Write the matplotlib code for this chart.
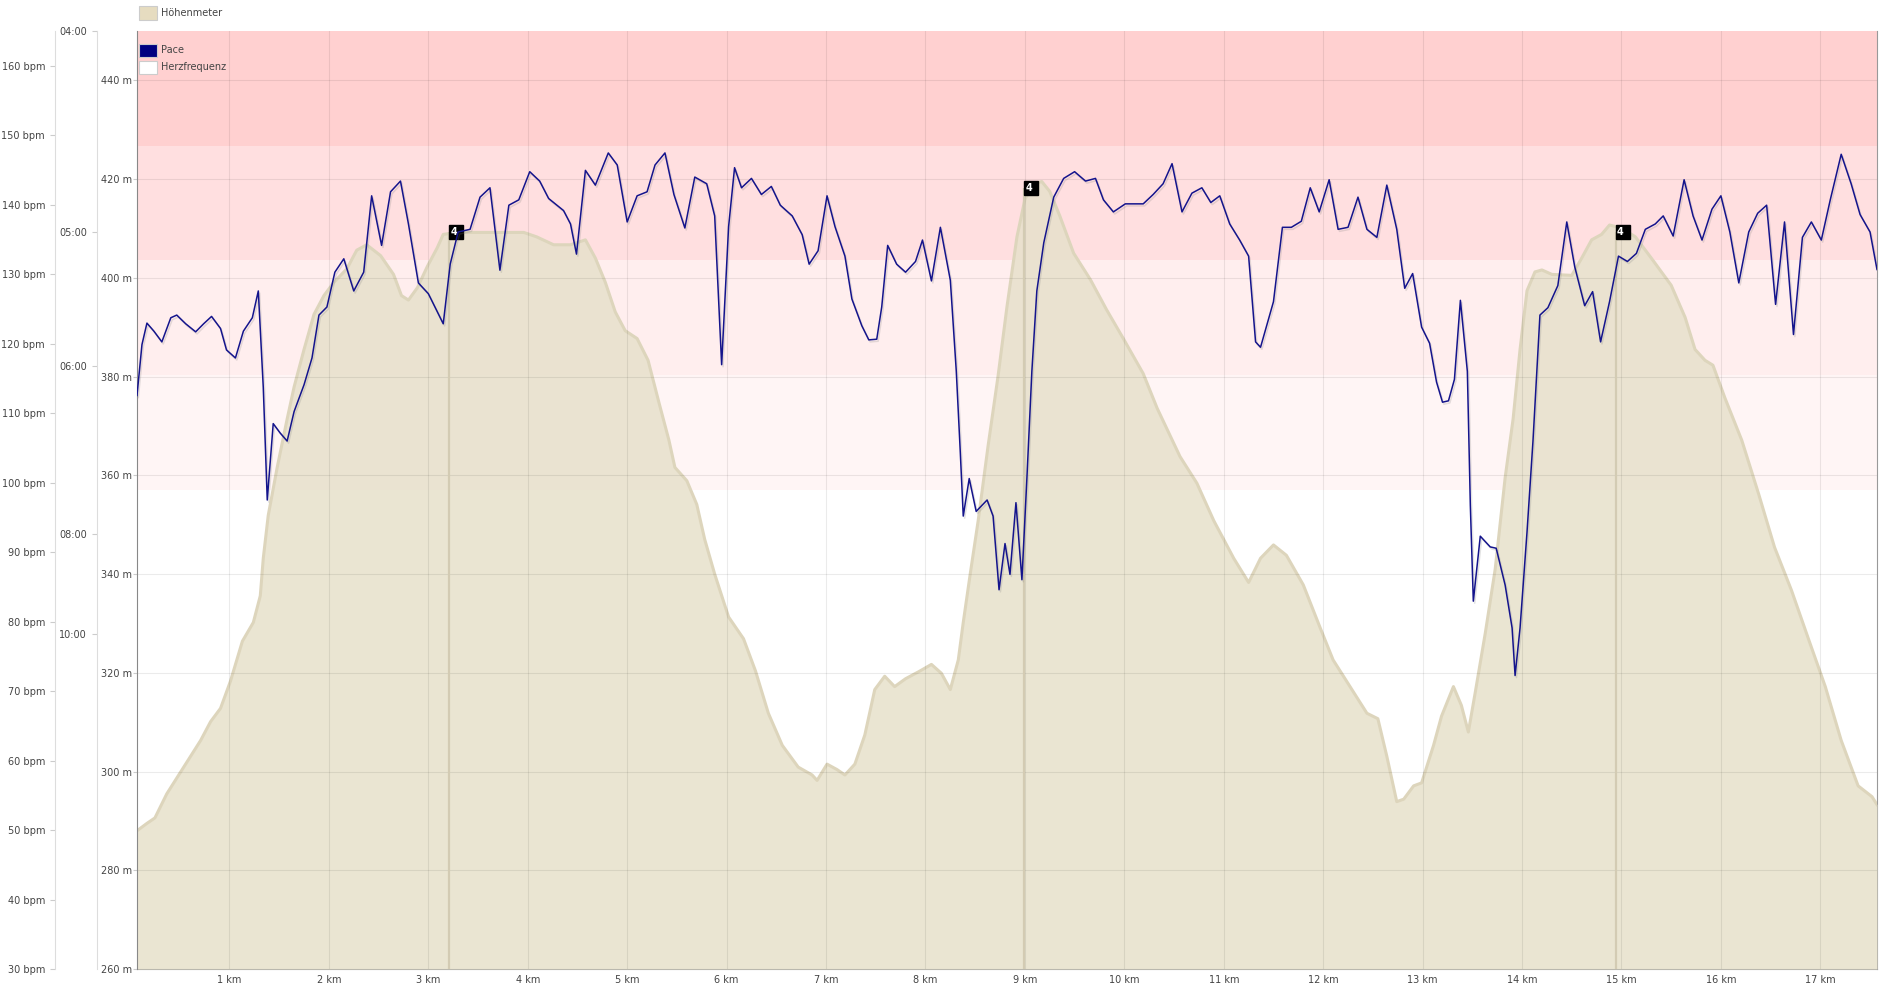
import matplotlib
matplotlib.use('Agg')
import matplotlib.pyplot as plt
import matplotlib.patheffects as pe
import matplotlib.transforms as mtransforms
from matplotlib.patches import Rectangle

# altitude profile (km, m)
alt_km = [0.07, 0.17, 0.25, 0.37, 0.54, 0.71, 0.81, 0.91, 1.01, 1.13, 1.24, 1.31, 1.34, 1.39, 1.48,
          1.58, 1.65, 1.75, 1.85, 1.95, 2.05, 2.18, 2.28, 2.38, 2.52, 2.65, 2.73, 2.80, 2.89, 2.99,
          3.09, 3.15, 3.29, 3.59, 3.96, 4.09, 4.26, 4.43, 4.58, 4.68, 4.78, 4.88, 4.98, 5.10, 5.21,
          5.32, 5.42, 5.48, 5.60, 5.70, 5.78, 5.88, 6.02, 6.17, 6.29, 6.42, 6.56, 6.72, 6.86, 6.91,
          7.01, 7.11, 7.19, 7.29, 7.39, 7.49, 7.59, 7.69, 7.80, 7.93, 8.06, 8.16, 8.25, 8.33, 8.38,
          8.45, 8.53, 8.63, 8.73, 8.82, 8.92, 9.00, 9.09, 9.17, 9.25, 9.35, 9.49, 9.66, 9.82, 9.99,
          10.19, 10.33, 10.56, 10.73, 10.90, 11.10, 11.25, 11.37, 11.50, 11.63, 11.80, 11.97, 12.10,
          12.27, 12.44, 12.55, 12.64, 12.74, 12.81, 12.91, 12.99, 13.11, 13.19, 13.31, 13.39, 13.46,
          13.53, 13.63, 13.73, 13.83, 13.91, 13.98, 14.05, 14.13, 14.20, 14.30, 14.50, 14.60, 14.70,
          14.80, 14.88, 15.00, 15.14, 15.30, 15.50, 15.64, 15.74, 15.84, 15.92, 16.04, 16.21, 16.38,
          16.54, 16.71, 16.88, 17.05, 17.21, 17.38, 17.52, 17.57]
alt_m = [288.0, 289.5, 290.6, 295.5, 300.9, 306.3, 310.1, 312.8, 318.3, 326.4, 330.2, 335.6, 343.2, 351.9, 361.6,
         371.4, 377.9, 385.5, 392.6, 396.4, 399.1, 401.8, 405.6, 406.7, 404.5, 400.7, 396.4, 395.5, 398.0, 402.3,
         406.1, 408.8, 409.2, 409.2, 409.2, 408.3, 406.7, 406.7, 407.7, 404.0, 399.1, 393.1, 389.3, 387.7, 383.3,
         374.7, 367.1, 361.6, 358.9, 354.1, 347.0, 340.0, 331.3, 326.9, 320.4, 311.8, 305.3, 300.9, 299.3, 298.2,
         301.5, 300.4, 299.3, 301.5, 307.4, 316.6, 319.3, 317.2, 318.8, 320.2, 321.7, 319.9, 316.6, 322.6, 330.2,
         340.0, 350.8, 366.0, 380.1, 394.2, 408.3, 415.9, 419.1, 419.5, 417.5, 412.6, 405.0, 399.6, 393.6, 387.7,
         380.6, 373.6, 363.8, 358.4, 350.8, 343.2, 338.3, 343.2, 345.9, 343.8, 337.8, 329.1, 322.6,
         317.2, 311.8, 310.7, 303.1, 293.9, 294.4, 297.1, 297.7, 305.3, 311.2, 317.2, 313.4, 308.0,
         316.1, 328.0, 341.0, 359.5, 371.4, 385.5, 397.4, 401.2, 401.6, 400.7, 400.5, 404.0, 407.7,
         408.8, 410.7, 410.1, 408.3, 404.0, 398.5, 392.0, 385.5, 383.3, 382.3, 375.7, 367.1, 356.2,
         345.4, 336.7, 326.9, 317.2, 306.3, 297.1, 294.9, 293.3]

# pace as speed (km, km/h)
pace_km = [0.07, 0.12, 0.17, 0.24, 0.32, 0.41, 0.47, 0.56, 0.66, 0.74, 0.82, 0.91, 0.97, 1.06, 1.14, 1.23,
           1.29, 1.34, 1.38, 1.44, 1.51, 1.58, 1.65, 1.75, 1.83, 1.90, 1.98, 2.06, 2.15, 2.25, 2.35, 2.43,
           2.53, 2.62, 2.72, 2.80, 2.90, 3.00, 3.15, 3.22, 3.30, 3.42, 3.52, 3.62, 3.72, 3.81, 3.91, 4.02,
           4.12, 4.21, 4.36, 4.43, 4.49, 4.58, 4.68, 4.81, 4.90, 5.00, 5.10, 5.20, 5.28, 5.38, 5.47, 5.58,
           5.68, 5.80, 5.88, 5.95, 6.02, 6.08, 6.15, 6.25, 6.35, 6.45, 6.54, 6.66, 6.76, 6.83, 6.92, 7.01,
           7.09, 7.19, 7.26, 7.36, 7.43, 7.51, 7.56, 7.62, 7.71, 7.80, 7.90, 7.97, 8.06, 8.15, 8.25, 8.31,
           8.35, 8.38, 8.44, 8.51, 8.62, 8.68, 8.74, 8.80, 8.85, 8.91, 8.97, 9.02, 9.07, 9.12, 9.19, 9.29,
           9.39, 9.50, 9.61, 9.71, 9.79, 9.89, 10.01, 10.19, 10.29, 10.39, 10.48, 10.58, 10.68, 10.78,
           10.87, 10.96, 11.06, 11.16, 11.25, 11.32, 11.37, 11.50, 11.59, 11.68, 11.78, 11.87, 11.96,
           12.06, 12.15, 12.25, 12.35, 12.44, 12.54, 12.64, 12.74, 12.82, 12.90, 12.99, 13.07, 13.14,
           13.20, 13.26, 13.32, 13.38, 13.45, 13.48, 13.51, 13.58, 13.68, 13.74, 13.83, 13.90, 13.93,
           13.98, 14.05, 14.11, 14.18, 14.26, 14.36, 14.45, 14.53, 14.63, 14.71, 14.79, 14.88, 14.97,
           15.06, 15.15, 15.24, 15.34, 15.42, 15.52, 15.63, 15.72, 15.81, 15.91, 16.00, 16.09, 16.18,
           16.28, 16.37, 16.46, 16.55, 16.64, 16.73, 16.82, 16.91, 17.01, 17.10, 17.21, 17.31, 17.40,
           17.50, 17.57]
pace_kmh = [9.56, 10.32, 10.64, 10.52, 10.36, 10.72, 10.76, 10.63, 10.51, 10.63, 10.74, 10.56, 10.24, 10.12, 10.52, 10.72,
            11.12, 9.68, 8.00, 9.14, 9.00, 8.88, 9.32, 9.72, 10.12, 10.76, 10.88, 11.40, 11.60, 11.12, 11.40, 12.54,
            11.80, 12.60, 12.76, 12.12, 11.24, 11.08, 10.63, 11.52, 12.00, 12.04, 12.52, 12.66, 11.43, 12.40, 12.48, 12.90,
            12.76, 12.50, 12.32, 12.12, 11.67, 12.92, 12.70, 13.18, 13.00, 12.15, 12.54, 12.60, 13.00, 13.18, 12.56, 12.06,
            12.82, 12.72, 12.24, 10.02, 12.08, 12.96, 12.66, 12.80, 12.56, 12.68, 12.40, 12.24, 11.96, 11.52, 11.72, 12.54,
            12.08, 11.64, 11.00, 10.60, 10.39, 10.40, 10.88, 11.80, 11.52, 11.40, 11.56, 11.88, 11.27, 12.07, 11.28, 9.92,
            8.72, 7.76, 8.32, 7.83, 8.00, 7.76, 6.66, 7.35, 6.89, 7.96, 6.81, 8.32, 9.92, 11.12, 11.84, 12.52,
            12.80, 12.90, 12.76, 12.80, 12.48, 12.30, 12.42, 12.42, 12.56, 12.72, 13.02, 12.30, 12.58, 12.66,
            12.44, 12.54, 12.12, 11.88, 11.64, 10.36, 10.28, 10.96, 12.07, 12.07, 12.16, 12.66, 12.30,
            12.78, 12.04, 12.07, 12.52, 12.04, 11.92, 12.70, 12.04, 11.16, 11.38, 10.58, 10.34, 9.76,
            9.46, 9.48, 9.80, 10.98, 9.92, 7.92, 6.49, 7.46, 7.30, 7.28, 6.73, 6.09, 5.38,
            6.09, 7.52, 8.88, 10.76, 10.87, 11.20, 12.15, 11.48, 10.90, 11.11, 10.36, 10.96, 11.64,
            11.56, 11.68, 12.04, 12.12, 12.24, 11.94, 12.78, 12.24, 11.88, 12.34, 12.54, 12.00, 11.24,
            12.00, 12.28, 12.40, 10.92, 12.15, 10.47, 11.92, 12.15, 11.88, 12.48, 13.16, 12.72, 12.26,
            12.00, 11.44]

# heart rate zones (bpm) and their colours
zone_bounds = [99, 115.5, 132, 148.5, 165]
zone_colors = ['#fff5f5', '#ffeeee', '#ffdfe0', '#ffd0d0']

# climb markers
climb_km = [3.21, 8.99, 14.94]
climb_top = [409.2, 418.1, 409.2]
climb_cat = ['4', '4', '4']

km_ticks = list(range(1, 18))
alt_ticks = list(range(260, 441, 20))
hr_ticks = list(range(30, 161, 10))
pace_labels = ['04:00', '05:00', '06:00', '08:00', '10:00']

W, H = 1893, 985
txt = '#444444'
fig = plt.figure(figsize=(W / 100, H / 100), dpi=100)

# base axes: heart rate (zones live here)
ax_hr = fig.add_axes([137 / W, 1 - 969 / H, 1740 / W, 938 / H])
ax_hr.set_xlim(0.07, 17.57)
ax_hr.set_ylim(30, 165)
for lo, hi, c in zip(zone_bounds[:-1], zone_bounds[1:], zone_colors):
    ax_hr.axhspan(lo, hi, color=c, lw=0, zorder=0)
ax_hr.spines['top'].set_visible(False)
ax_hr.spines['right'].set_color('#999999')
ax_hr.spines['bottom'].set_color('#999999')
ax_hr.spines['left'].set_position(('axes', (55 - 137) / 1740))
ax_hr.spines['left'].set_color('#dddddd')
ax_hr.set_yticks(hr_ticks)
ax_hr.set_yticklabels([f'{v} bpm' for v in hr_ticks])
ax_hr.tick_params(axis='y', length=3.6, color='#cccccc', pad=3.6, labelsize=7, labelcolor=txt)
ax_hr.set_xticks(km_ticks)
ax_hr.set_xticklabels([f'{k} km' for k in km_ticks])
ax_hr.tick_params(axis='x', length=0, pad=4, labelsize=7, labelcolor=txt)

# altitude axes
ax_alt = ax_hr.twinx()
ax_alt.set_ylim(260, 450)
ax_alt.yaxis.tick_left()
for s in ['top', 'right', 'bottom']:
    ax_alt.spines[s].set_visible(False)
ax_alt.spines['left'].set_position(('axes', 0))
ax_alt.spines['left'].set_color('#888888')
ax_alt.set_yticks(alt_ticks)
ax_alt.set_yticklabels([f'{v} m' for v in alt_ticks])
ax_alt.tick_params(axis='y', length=3, color='#cccccc', pad=0.8, labelsize=7, labelcolor=txt)

ax_alt.fill_between(alt_km, alt_m, 260, color=(231 / 255, 225 / 255, 203 / 255), alpha=0.86, lw=0, zorder=1)
ax_alt.plot(alt_km, alt_m, color='#ddd5bc', lw=2.2, zorder=1.2, solid_joinstyle='round')

for y in alt_ticks:
    ax_alt.axhline(y, color='black', alpha=0.08, lw=0.8, zorder=1.5)
for k in km_ticks:
    ax_alt.axvline(k, color='black', alpha=0.08, lw=0.8, zorder=1.5)

ax_alt.vlines(climb_km, 260, climb_top, color='#d3cbb3', lw=1.6, zorder=1.6)
box_tr = mtransforms.offset_copy(ax_alt.transData, fig=fig, x=7, y=0, units='dots')
txt_tr = mtransforms.offset_copy(ax_alt.transData, fig=fig, x=1.5, y=0, units='dots')
ax_alt.plot(climb_km, climb_top, 's', ms=10, color='black', transform=box_tr, zorder=5)
for x, y, c in zip(climb_km, climb_top, climb_cat):
    ax_alt.text(x, y, c, transform=txt_tr, color='white', fontsize=7, fontweight='bold',
                ha='left', va='center', zorder=6)

# pace axes (linear in speed, labelled as min/km)
ax_pace = ax_hr.twinx()
ax_pace.set_ylim(1, 15)
ax_pace.yaxis.tick_left()
for s in ['top', 'right', 'bottom']:
    ax_pace.spines[s].set_visible(False)
ax_pace.spines['left'].set_position(('axes', (97 - 137) / 1740))
ax_pace.spines['left'].set_color('#dddddd')
pace_speeds = [60 / (int(p[:2]) + int(p[3:]) / 60) for p in pace_labels]
ax_pace.set_yticks(pace_speeds)
ax_pace.set_yticklabels(pace_labels)
ax_pace.tick_params(axis='y', length=3.6, color='#cccccc', pad=3.6, labelsize=7, labelcolor=txt)

ax_pace.plot(pace_km, pace_kmh, color='#14148c', lw=1.1, solid_joinstyle='round',
             path_effects=[pe.SimpleLineShadow(offset=(1, -1.5), shadow_color='gray', alpha=0.22),
                           pe.Normal()])


# legend drawn by hand
def px_rect(x0, y0, x1, y1, **kw):
    return Rectangle((x0 / W, 1 - y1 / H), (x1 - x0) / W, (y1 - y0) / H,
                     transform=fig.transFigure, **kw)


fig.add_artist(px_rect(139, 6, 157, 20, facecolor='#e6dcc0', edgecolor='#cccccc', lw=0.8))
fig.text(161 / W, 1 - 13.5 / H, 'Höhenmeter', fontsize=7, color=txt, va='center')
fig.add_artist(px_rect(139, 44, 157, 57, facecolor='#000080', edgecolor='#cccccc', lw=0.8))
fig.text(161 / W, 1 - 50 / H, 'Pace', fontsize=7, color=txt, va='center')
fig.add_artist(px_rect(139, 61, 157, 74, facecolor='white', edgecolor='#cccccc', lw=0.8))
fig.text(161 / W, 1 - 67.5 / H, 'Herzfrequenz', fontsize=7, color=txt, va='center')

fig.savefig('out.png', dpi=100)
